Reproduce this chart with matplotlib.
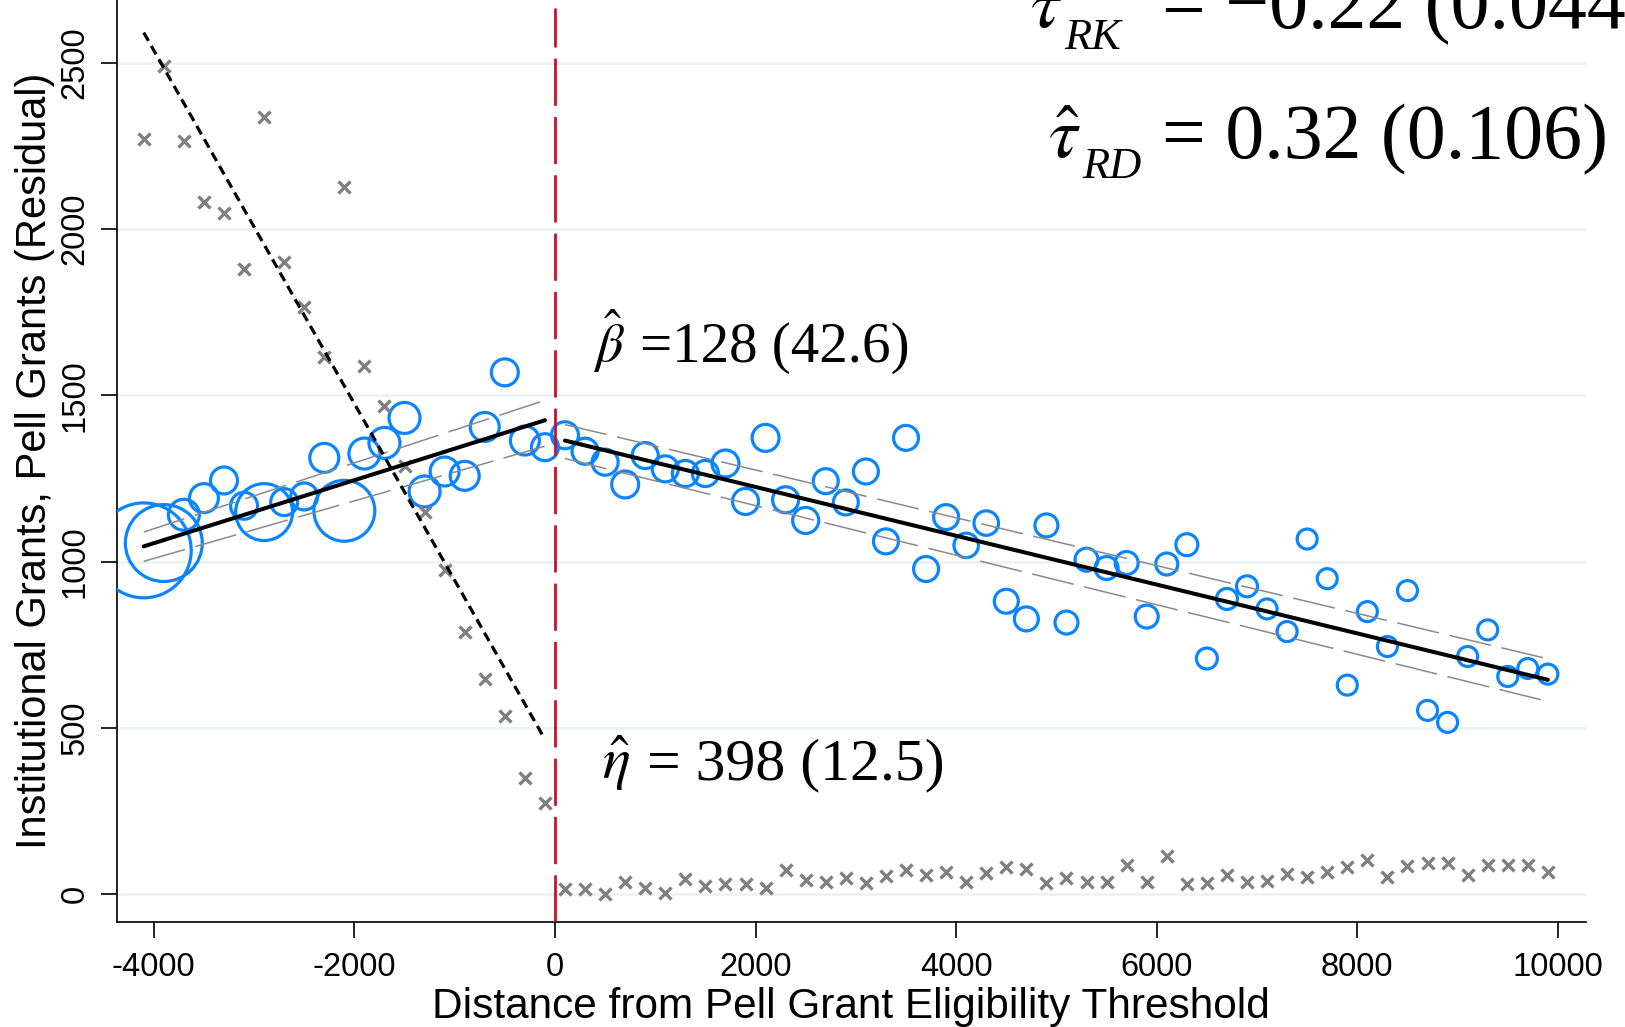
import matplotlib
matplotlib.use("Agg")
import matplotlib.pyplot as plt

plt.rcParams['font.family'] = ['Liberation Sans', 'DejaVu Sans']
plt.rcParams['mathtext.fontset'] = 'stix'

# ---------------- data ----------------
x_left = [-4100, -3900, -3700, -3500, -3300, -3100, -2900, -2700, -2500, -2300, -2100,
          -1900, -1700, -1500, -1300, -1100, -900, -700, -500, -300, -100]
x_right = [100, 300, 500, 700, 900, 1100, 1300, 1500, 1700, 1900, 2100, 2300, 2500, 2700,
           2900, 3100, 3300, 3500, 3700, 3900, 4100, 4300, 4500, 4700, 4900, 5100, 5300,
           5500, 5700, 5900, 6100, 6300, 6500, 6700, 6900, 7100, 7300, 7500, 7700, 7900,
           8100, 8300, 8500, 8700, 8900, 9100, 9300, 9500, 9700, 9900]

inst_left = [1034, 1056, 1141, 1191, 1244, 1168, 1149, 1179, 1196, 1312, 1153,
             1325, 1357, 1432, 1211, 1271, 1258, 1405, 1569, 1364, 1344]
inst_right = [1380, 1332, 1299, 1232, 1319, 1279, 1265, 1265, 1295, 1181, 1372, 1186, 1124,
              1242, 1178, 1271, 1061, 1372, 978, 1134, 1049, 1116, 881, 828, 1109, 817,
              1006, 981, 996, 835, 993, 1051, 709, 888, 926, 858, 790, 1068, 949, 629,
              850, 745, 913, 553, 517, 715, 795, 655, 679, 662]

bin_obs_left = [2256, 1482, 240, 210, 182, 182, 812, 182, 182, 210, 930,
                240, 240, 240, 240, 210, 210, 210, 182, 210, 182]
bin_obs_right = [182, 170, 170, 182, 170, 170, 170, 170, 182, 170, 182, 170,
                 170, 156, 156, 156, 156, 156, 156, 156, 150, 150,
                 144, 144, 132, 132, 132, 132, 132, 132, 121, 121,
                 110, 110, 110, 100, 100, 100, 100, 100, 100, 100, 100, 100, 100,
                 100, 100, 100, 100, 100]

pell_left = [2270, 2490, 2264, 2081, 2047, 1881, 2336, 1900, 1764, 1614, 2126,
             1588, 1467, 1289, 1148, 976, 790, 648, 535, 350, 276]
pell_right = [15, 15, 0, 38, 18, 5, 45, 26, 31, 31, 18, 73, 43, 38, 48, 35, 55, 73, 58, 68,
              38, 63, 83, 75, 33, 50, 37, 37, 87, 37, 115, 31, 34, 59, 37, 41, 62, 53, 66,
              81, 103, 53, 84, 94, 94, 59, 87, 87, 87, 66]

fit_left_x = [-4100, -100]
fit_left_y = [1046, 1425]
ci_left_hi = [1089, 1485]
ci_left_lo = [1001, 1347]
fit_right_x = [100, 9900]
fit_right_y = [1364, 645]
ci_right_hi = [1412, 708]
ci_right_lo = [1310, 580]
pell_fit_x = [-4100, -100]
pell_fit_y = [2590, 466]

xticks = [-4000, -2000, 0, 2000, 4000, 6000, 8000, 10000]
xtick_labels = ['-4000', '-2000', '0', '2000', '4000', '6000', '8000', '10000']
yticks = [0, 500, 1000, 1500, 2000, 2500]
ytick_labels = ['0', '500', '1000', '1500', '2000', '2500']

# ---------------- figure ----------------
fig = plt.figure(figsize=(16.25, 10.27), dpi=100)
ax = fig.add_axes([0.0718, 0.1022, 0.9042, 0.8978])

blue = '#0a84ff'
gray = '#808080'

area_scale = 2.07
ax.scatter(x_left, inst_left, s=[w * area_scale for w in bin_obs_left],
           facecolors='none', edgecolors=blue, linewidths=2.3, zorder=3)
ax.scatter(x_right, inst_right, s=[w * area_scale for w in bin_obs_right],
           facecolors='none', edgecolors=blue, linewidths=2.3, zorder=3)

ax.plot(x_left, pell_left, ls='none', marker='x', ms=8.5, mew=2.4, color=gray, zorder=4)
ax.plot(x_right, pell_right, ls='none', marker='x', ms=8.5, mew=2.4, color=gray, zorder=4)

ci_style = dict(color='#8a8a8a', lw=1.1, ls=(0, (28, 7)), zorder=5)
ax.plot(fit_left_x, ci_left_hi, **ci_style)
ax.plot(fit_left_x, ci_left_lo, **ci_style)
ax.plot(fit_right_x, ci_right_hi, **ci_style)
ax.plot(fit_right_x, ci_right_lo, **ci_style)

ax.plot(fit_left_x, fit_left_y, color='black', lw=2.9, solid_capstyle='round', zorder=6)
ax.plot(fit_right_x, fit_right_y, color='black', lw=2.9, solid_capstyle='round', zorder=6)
ax.plot(pell_fit_x, pell_fit_y, color='black', lw=2.3, ls=(0, (3, 1.8)), zorder=6)

ax.set_xlim(-4370, 10280)
ax.set_ylim(-83, 2688)

ax.axvline(0, ymin=0, ymax=0.991, color='#c8102e', lw=2.0, ls=(0, (17, 4)), zorder=7)

# ---------------- annotations ----------------
serif = ['Liberation Serif', 'DejaVu Serif']
kw = dict(ha='left', va='baseline', zorder=8)
# beta-hat
ax.text(379, 1601, r'$\hat{\beta}$', fontsize=39, **kw)
ax.text(845, 1601, '=128 (42.6)', fontsize=41, family=serif, **kw)
# eta-hat
ax.text(466, 346, r'$\hat{\eta}$', fontsize=42, **kw)
ax.text(915, 346, '= 398 (12.5)', fontsize=43, family=serif, **kw)
# tau-hat RD
ax.text(4918, 2212, r'$\hat{\tau}$', fontsize=52, **kw)
ax.text(5257, 2152, 'RD', fontsize=32, family=serif, style='italic', **kw)
ax.text(6055, 2212, '= 0.32 (0.106)', fontsize=56, family=serif, **kw)
# tau-hat RK (runs off the top/right edge as in the original)
ax.text(4738, 2604, r'$\hat{\tau}$', fontsize=52, **kw)
ax.text(5077, 2540, 'RK', fontsize=32, family=serif, style='italic', **kw)
ax.text(6055, 2604, '= \u22120.22 (0.044)', fontsize=56, family=serif, **kw)

# ---------------- axes styling ----------------
for s in ['top', 'right']:
    ax.spines[s].set_visible(False)
for s in ['left', 'bottom']:
    ax.spines[s].set_linewidth(1.2)
    ax.spines[s].set_color('black')

ax.set_xticks(xticks)
ax.set_xticklabels(xtick_labels)
ax.set_yticks(yticks)
ax.set_yticklabels(ytick_labels)
ax.tick_params(axis='both', direction='out', length=11.5, width=1.2, labelsize=23.5, colors='black')
ax.tick_params(axis='x', pad=10)
ax.tick_params(axis='y', pad=7.5)
plt.setp(ax.get_yticklabels(), rotation=90, va='center')

ax.set_axisbelow(True)
ax.yaxis.grid(True, color='#eaf2f3', lw=1.9)
ax.xaxis.grid(False)

ax.set_xlabel('Distance from Pell Grant Eligibility Threshold', fontsize=30.5, labelpad=3)
ax.set_ylabel('Institutional Grants, Pell Grants (Residual)', fontsize=30, labelpad=3)

fig.savefig('out.png', dpi=100)
